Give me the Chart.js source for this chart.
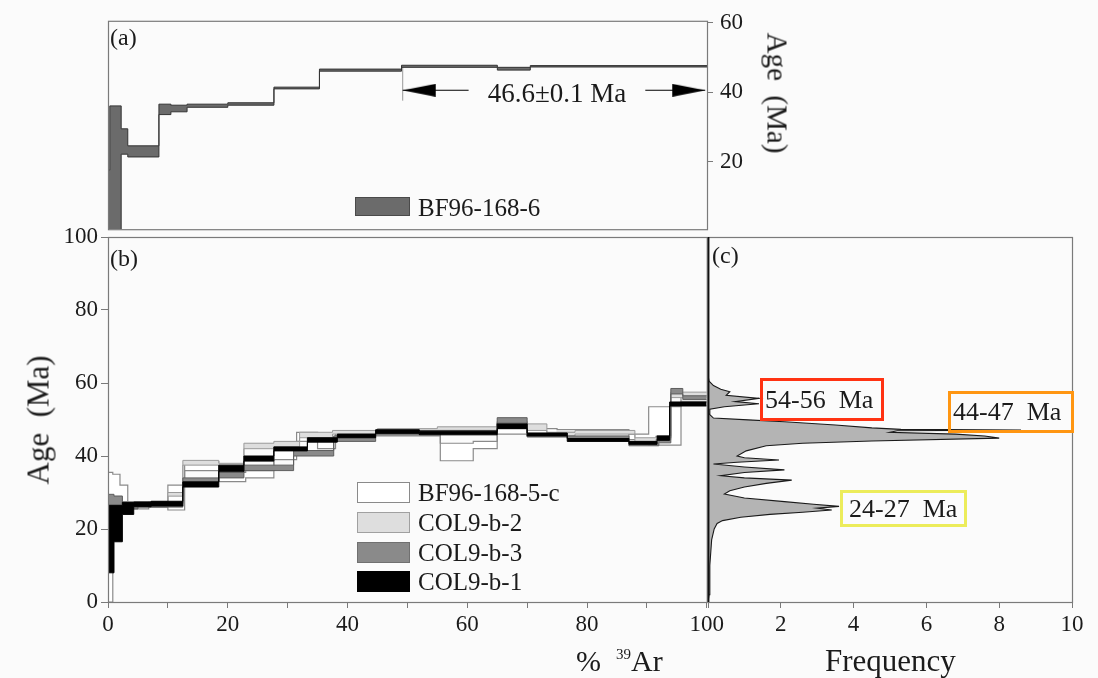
<!DOCTYPE html>
<html lang="en">
<head>
<meta charset="utf-8">
<title>40Ar/39Ar age spectra</title>
<script src="https://cdn.jsdelivr.net/npm/chart.js@4.4.1/dist/chart.umd.min.js"></script>
<style>
  html, body { margin: 0; padding: 0; background: #fbfbfb; }
  #figure { position: relative; width: 1098px; height: 678px; overflow: hidden;
    font-family: "Liberation Serif", "DejaVu Serif", serif; color: #1b1b1b; }
  #figure canvas { position: absolute; }
  .lbl { position: absolute; white-space: pre; line-height: 1; }
  .mid { transform: translate(-50%, -50%); }
  .lft { transform: translateY(-50%); }
  .rotl { transform: translate(-50%, -50%) rotate(-90deg); }
  .rotr { transform: translate(-50%, -50%) rotate(90deg); }
  .swatch { position: absolute; box-sizing: border-box; border: 1.5px solid #8a8a8a; }
  .tag { position: absolute; box-sizing: border-box; border: 3px solid; font-size: 26px;
    line-height: 1; white-space: pre; display: flex; align-items: center; padding-left: 2px; }
  sup { font-size: 15px; vertical-align: 12px; }
</style>
</head>
<body>
<div id="figure">
  <canvas id="chartA" width="800" height="250" style="left:0;top:0"></canvas>
  <canvas id="chartB" width="727" height="458" style="left:0;top:220px"></canvas>
  <canvas id="chartC" width="398" height="458" style="left:700px;top:220px"></canvas>

  <div class="lbl lft" style="left:110px;top:37px;font-size:24px">(a)</div>
  <div class="lbl lft" style="left:110px;top:258px;font-size:24px">(b)</div>
  <div class="lbl lft" style="left:712px;top:255px;font-size:24px">(c)</div>

  <div class="lbl mid" style="left:557px;top:93px;font-size:27px">46.6±0.1 Ma</div>

  <div class="swatch" style="left:355px;top:197px;width:55px;height:19px;background:#6b6b6b;border-color:#4a4a4a"></div>
  <div class="lbl lft" style="left:418px;top:207px;font-size:25px">BF96-168-6</div>

  <div class="swatch" style="left:357px;top:482px;width:53px;height:21px;background:#ffffff"></div>
  <div class="lbl lft" style="left:418px;top:492px;font-size:25px">BF96-168-5-c</div>
  <div class="swatch" style="left:357px;top:512px;width:53px;height:21px;background:#dedede;border-color:#a0a0a0"></div>
  <div class="lbl lft" style="left:418px;top:522px;font-size:25px">COL9-b-2</div>
  <div class="swatch" style="left:357px;top:542px;width:53px;height:21px;background:#8a8a8a;border-color:#707070"></div>
  <div class="lbl lft" style="left:418px;top:552px;font-size:25px">COL9-b-3</div>
  <div class="swatch" style="left:357px;top:571px;width:53px;height:21px;background:#000;border-color:#000"></div>
  <div class="lbl lft" style="left:418px;top:581px;font-size:25px">COL9-b-1</div>

  <div class="lbl rotl" style="left:38px;top:420px;font-size:31px">Age  (Ma)</div>
  <div class="lbl rotr" style="left:777px;top:93px;font-size:29px">Age  (Ma)</div>
  <div class="lbl lft" style="left:576px;top:661px;font-size:30px">%  <sup>39</sup>Ar</div>
  <div class="lbl lft" style="left:825px;top:660px;font-size:31px">Frequency</div>

  <div class="tag" style="left:760px;top:378px;width:124px;height:43px;border-color:#ff3212">54-56  Ma</div>
  <div class="tag" style="left:948px;top:391px;width:126px;height:42px;border-color:#ff9612">44-47  Ma</div>
  <div class="tag" style="left:840px;top:490px;width:127px;height:37px;border-color:#ecec5a;padding-left:6px">24-27  Ma</div>
</div>

<script>
(function () {
  const SPECTRUM_END = 100;

  // age spectra: each step is [start % 39Ar, age low (Ma), age high (Ma)]
  const bf96_168_6 = [
    [0, 0, 17.5], [0.3, 0, 36], [2.2, 22.1, 29.4], [3.3, 21.3, 24.5],
    [8.5, 33.5, 36.5], [10.5, 34.3, 36.2], [13.2, 35.6, 36.5], [20, 36.2, 36.9],
    [27.7, 40.9, 41.4], [35.3, 46.0, 46.6], [49, 47.1, 47.7], [65, 46.3, 47.1],
    [70.5, 47.2, 47.6]
  ];

  const bf96_168_5c = [
    [0, 0, 35.5], [0.8, 26, 35], [2.0, 27.5, 32], [3.3, 25.5, 27], [6.8, 26, 27.5],
    [10, 25.2, 32], [12.8, 36, 38.5], [18.5, 33, 35.5], [23, 34, 36], [27.7, 39, 42],
    [31.5, 44, 46.5], [35, 42, 44.5], [38, 45.5, 46.5], [45, 45.5, 46.5],
    [55.5, 38.7, 43.5], [61, 42, 44], [65, 46, 49], [70, 45.5, 47.5],
    [75, 46.5, 47.2], [87, 44.5, 46], [90.3, 43, 53.5], [95.7, 55, 56.5]
  ];

  const col9_b_2 = [
    [0, 24.5, 28], [1.0, 27, 29], [2.4, 26, 27.5], [4.5, 26.5, 27.5], [10, 29, 30],
    [12.5, 37.5, 38.8], [18.5, 36, 38], [22.7, 42, 43.5], [27.7, 42.5, 44],
    [32, 45, 46.5], [37.5, 46, 47], [45, 46.5, 47.5], [55, 47, 48], [65, 47.5, 49.5],
    [70, 47, 48.8], [73.3, 45.5, 46.5], [78, 46, 47], [88, 44, 45], [91.5, 44.5, 45.5],
    [94, 56, 57.5]
  ];

  const col9_b_3 = [
    [0, 25, 29.5], [1.0, 26, 29], [2.4, 25.5, 27], [5, 26, 27], [12.5, 33, 34],
    [18.5, 34, 35.5], [22.7, 36, 37.5], [31, 40, 41.5], [37.7, 44, 45.5],
    [44.7, 45.8, 47], [52, 46.2, 47], [65, 49, 50.5], [70, 45.2, 46.2],
    [76.7, 44.8, 45.5], [87, 42.8, 43.8], [92, 43.6, 45], [94, 57, 58.5], [96, 55.5, 56.5]
  ];

  const col9_b_1 = [
    [0, 8, 26.5], [1.0, 16.5, 26.5], [2.4, 24, 27.3], [4.3, 26.1, 27.4],
    [7.2, 26.3, 27.6], [12.5, 31.5, 32.9], [18.5, 35.8, 37.5], [22.7, 38.6, 40],
    [27.7, 41.4, 42.5], [33.3, 43.8, 45], [38.3, 45, 46], [44.7, 46.2, 47.2],
    [52, 45.8, 46.8], [65, 47.5, 48.8], [70, 45.5, 46.3], [76.7, 44, 44.8],
    [87, 43.2, 44], [91.7, 44.3, 45.5], [93.8, 53.7, 54.8]
  ];

  // panel (a) plateau marker
  const plateauStart = 49.2;
  const plateauEnd = 99.7;
  const arrowAge = 40.5;
  const arrowGap = [60.2, 89.7];
  const plateauTick = [37.5, 47.5];

  // panel (c) probability density, age (Ma) vs frequency
  const densityAges = [
    0, 2, 10, 17, 20, 21.5, 22.3, 23.2, 24.0, 24.6, 25.2, 25.7, 26.2, 26.8, 27.5,
    28.5, 29.6, 30.5, 31.5, 32.5, 33.4, 34.0, 34.6, 35.5, 36.2, 37.0, 37.8, 38.3,
    38.9, 39.5, 40.0, 41.4, 42.8, 43.5, 44.1, 44.9, 45.5, 46.0, 46.5, 46.9, 47.1,
    47.3, 47.7, 48.5, 49.4, 49.9, 50.4, 51.5, 52.8, 53.5, 54.3, 54.9, 55.8, 56.6,
    57.6, 58.3, 59.3, 60.5, 62, 100
  ];
  const densityFreq = [
    0, 0.03, 0.05, 0.1, 0.17, 0.25, 0.4, 0.9, 1.7, 2.6, 3.4, 3.0, 3.6, 2.9, 2.1,
    1.0, 0.45, 0.6, 1.0, 1.6, 2.3, 1.0, 0.35, 1.0, 2.1, 1.0, 0.15, 0.8,
    1.95, 1.0, 0.8, 1.05, 1.6, 2.6, 4.5, 8.0, 7.6, 6.8, 5.0, 5.2, 8.6,
    5.3, 4.5, 3.5, 2.1, 1.1, 0.15, 0.03, 0.05, 0.45, 1.4, 0.75, 1.4, 0.5,
    0.6, 0.35, 0.15, 0.03, 0, 0
  ];

  // axes
  const pctTicks = [0, 10, 20, 30, 40, 50, 60, 70, 80, 90, 100];
  const pctLabeled = [0, 20, 40, 60, 80, 100];
  const ageTicks = [0, 20, 40, 60, 80, 100];
  const ageTicksA = [20, 40, 60];
  const freqTicks = [0, 2, 4, 6, 8, 10];

  const ink = "#1b1b1b";
  const axisGray = "#7a7a7a";
  const tickFont = { family: "Liberation Serif", size: 23 };

  function stepPoints(steps, col) {
    const pts = steps.map(function (s) { return { x: s[0], y: s[col] }; });
    pts.push({ x: SPECTRUM_END, y: steps[steps.length - 1][col] });
    return pts;
  }

  function spectrum(steps, fillColor, lineColor, width) {
    return [
      { data: stepPoints(steps, 2), stepped: true, borderColor: lineColor,
        borderWidth: width, pointRadius: 0, fill: false },
      { data: stepPoints(steps, 1), stepped: true, borderColor: lineColor,
        borderWidth: width, pointRadius: 0, backgroundColor: fillColor, fill: "-1" }
    ];
  }

  function fixedTicks(values) {
    return function (axis) {
      axis.ticks = values.map(function (v) { return { value: v }; });
    };
  }

  const framePlugin = {
    id: "frame",
    afterDatasetsDraw: function (chart, args, opts) {
      const a = chart.chartArea;
      const ctx = chart.ctx;
      ctx.save();
      ctx.strokeStyle = opts.color || axisGray;
      ctx.lineWidth = 1.2;
      ctx.strokeRect(a.left + 0.5, a.top + 0.5, a.right - a.left, a.bottom - a.top);
      if (opts.leftColor) {
        ctx.strokeStyle = opts.leftColor;
        ctx.lineWidth = 1.8;
        ctx.beginPath();
        ctx.moveTo(a.left + 0.5, a.top);
        ctx.lineTo(a.left + 0.5, a.bottom);
        ctx.stroke();
      }
      ctx.restore();
    }
  };

  function arrowHead(pointRight) {
    const c = document.createElement("canvas");
    c.width = 68;
    c.height = 13;
    const g = c.getContext("2d");
    g.fillStyle = "#000";
    g.beginPath();
    if (pointRight) {
      g.moveTo(1, 0); g.lineTo(34, 6.5); g.lineTo(1, 13);
    } else {
      g.moveTo(67, 0); g.lineTo(34, 6.5); g.lineTo(67, 13);
    }
    g.closePath();
    g.fill();
    return c;
  }

  const common = {
    responsive: false,
    animation: false,
    events: [],
    plugins: { legend: { display: false }, tooltip: { enabled: false } }
  };

  // ---- panel (a)
  new Chart(document.getElementById("chartA"), {
    type: "line",
    data: {
      datasets: spectrum(bf96_168_6, "#6b6b6b", "#333", 1).concat([
        { data: [{ x: arrowGap[0], y: arrowAge }, { x: plateauStart, y: arrowAge }],
          borderColor: "#000", borderWidth: 1.2, fill: false,
          pointRadius: [0, 1], pointStyle: arrowHead(false) },
        { data: [{ x: arrowGap[1], y: arrowAge }, { x: plateauEnd, y: arrowAge }],
          borderColor: "#000", borderWidth: 1.2, fill: false,
          pointRadius: [0, 1], pointStyle: arrowHead(true) },
        { data: [{ x: plateauStart, y: plateauTick[0] }, { x: plateauStart, y: plateauTick[1] }],
          borderColor: "#999", borderWidth: 1, pointRadius: 0, fill: false }
      ])
    },
    options: Object.assign({}, common, {
      layout: { padding: { top: 18, left: 108, bottom: 13, right: 0 } },
      scales: {
        x: { type: "linear", min: 0, max: 100, display: false },
        y: {
          type: "linear", position: "right", min: 0.5, max: 60.5,
          afterBuildTicks: fixedTicks(ageTicksA),
          afterFit: function (s) { s.width = 93; },
          ticks: { font: tickFont, color: ink, padding: 7 },
          grid: { drawOnChartArea: false, tickLength: 6, tickColor: axisGray },
          border: { display: false }
        }
      },
      plugins: Object.assign({}, common.plugins, { frame: { color: axisGray } })
    }),
    plugins: [framePlugin]
  });

  // ---- panel (b): black drawn on top, so it comes first
  const datasetsB = []
    .concat(spectrum(col9_b_1, "#000000", "#000000", 1))
    .concat(spectrum(col9_b_3, "#8a8a8a", "#5e5e5e", 1))
    .concat(spectrum(col9_b_2, "#dedede", "#9a9a9a", 1))
    .concat(spectrum(bf96_168_5c, "#ffffff", "#8a8a8a", 1.2));

  new Chart(document.getElementById("chartB"), {
    type: "line",
    data: { datasets: datasetsB },
    options: Object.assign({}, common, {
      layout: { padding: { top: 17, left: 0, bottom: 0, right: 0 } },
      scales: {
        x: {
          type: "linear", min: 0, max: 100,
          afterBuildTicks: fixedTicks(pctTicks),
          afterFit: function (s) { s.height = 76; },
          ticks: {
            font: tickFont, color: ink, padding: 3, maxRotation: 0, autoSkip: false,
            callback: function (v) { return pctLabeled.indexOf(v) >= 0 ? String(v) : ""; }
          },
          grid: { drawOnChartArea: false, tickLength: 6, tickColor: axisGray },
          border: { display: false }
        },
        y: {
          type: "linear", min: 0, max: 100,
          afterBuildTicks: fixedTicks(ageTicks),
          afterFit: function (s) { s.width = 108; },
          ticks: { font: tickFont, color: ink, padding: 3 },
          grid: { drawOnChartArea: false, tickLength: 7, tickColor: axisGray },
          border: { display: false }
        }
      },
      plugins: Object.assign({}, common.plugins, { frame: { color: axisGray } })
    }),
    plugins: [framePlugin]
  });

  // ---- panel (c)
  const densityPoints = densityAges.map(function (age, i) {
    return { x: densityFreq[i], y: age };
  });

  new Chart(document.getElementById("chartC"), {
    type: "line",
    data: {
      datasets: [{
        data: densityPoints,
        borderColor: "#1a1a1a",
        borderWidth: 1.1,
        backgroundColor: "#b4b4b4",
        pointRadius: 0,
        fill: { value: 0 }
      }]
    },
    options: Object.assign({}, common, {
      indexAxis: "y",
      layout: { padding: { top: 17, left: 8, bottom: 0, right: 26 } },
      scales: {
        x: {
          type: "linear", min: 0, max: 10,
          afterBuildTicks: fixedTicks(freqTicks),
          afterFit: function (s) { s.height = 76; },
          ticks: {
            font: tickFont, color: ink, padding: 3, maxRotation: 0, autoSkip: false,
            callback: function (v) { return v === 0 ? "" : String(v); }
          },
          grid: { drawOnChartArea: false, tickLength: 6, tickColor: axisGray },
          border: { display: false }
        },
        y: { type: "linear", min: 0, max: 100, display: false }
      },
      plugins: Object.assign({}, common.plugins, { frame: { color: axisGray, leftColor: "#111" } })
    }),
    plugins: [framePlugin]
  });
})();
</script>
</body>
</html>
